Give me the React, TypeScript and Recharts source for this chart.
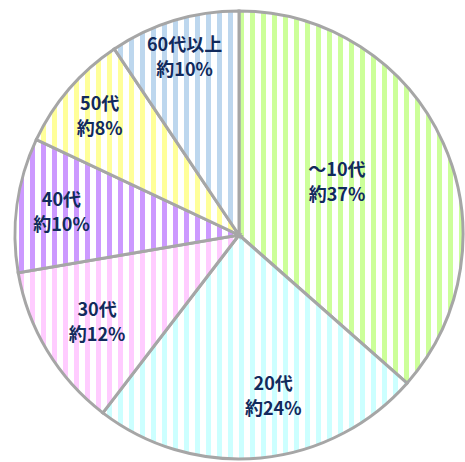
import { PieChart, Pie, Cell } from "recharts";

const AGE_GROUPS = ["～10代", "20代", "30代", "40代", "50代", "60代以上"];
const SHARE_LABELS = ["約37%", "約24%", "約12%", "約10%", "約8%", "約10%"];
// slice sizes
const SHARES = [36.5, 23.9, 11.9, 9.7, 8.6, 9.4];

const STRIPE_COLORS = ["#ccff99", "#ccffff", "#ffccff", "#cc99ff", "#ffff99", "#bdd7ee"];
const LABEL_R = [0.5, 0.73, 0.74, 0.8, 0.82, 0.835];
const LABEL_DA = [4.7, 6.5, 0, 0, 0, 0];

const data = AGE_GROUPS.map((name, i) => ({ name, value: SHARES[i], pct: SHARE_LABELS[i] }));

const RAD = Math.PI / 180;

function renderLabel(props: any) {
  const { cx, cy, midAngle, outerRadius, index } = props;
  const a = (midAngle + LABEL_DA[index]) * RAD;
  const r = outerRadius * LABEL_R[index];
  const x = cx + r * Math.cos(-a);
  const y = cy + r * Math.sin(-a);
  return (
    <text
      x={x}
      y={y}
      textAnchor="middle"
      fill="#112a5c"
      fontSize={18}
      fontWeight="bold"
      fontFamily="'Noto Sans CJK JP', sans-serif"
    >
      <tspan x={x} dy={-5}>{AGE_GROUPS[index]}</tspan>
      <tspan x={x} dy={25}>{SHARE_LABELS[index]}</tspan>
    </text>
  );
}

export default function App() {
  return (
    <div style={{ position: "absolute", left: 0, top: 0, width: 465, height: 462, background: "#fff" }}>
      <PieChart width={465} height={462} margin={{ top: 0, right: 0, bottom: 0, left: 0 }}>
        <defs>
          {STRIPE_COLORS.map((c, i) => (
            <pattern
              key={i}
              id={`stripe-${i}`}
              patternUnits="userSpaceOnUse"
              x={8}
              y={0}
              width={11}
              height={20}
            >
              <rect x={0} y={0} width={11} height={20} fill="#fff" />
              <rect x={0} y={0} width={5} height={20} fill={c} />
            </pattern>
          ))}
        </defs>
        <Pie
          data={data}
          dataKey="value"
          cx={239}
          cy={235}
          outerRadius={224}
          startAngle={90}
          endAngle={-270}
          stroke="#a6a6a6"
          strokeWidth={3}
          label={renderLabel}
          labelLine={false}
          isAnimationActive={false}
        >
          {data.map((_, i) => (
            <Cell key={i} fill={`url(#stripe-${i})`} />
          ))}
        </Pie>
      </PieChart>
    </div>
  );
}
